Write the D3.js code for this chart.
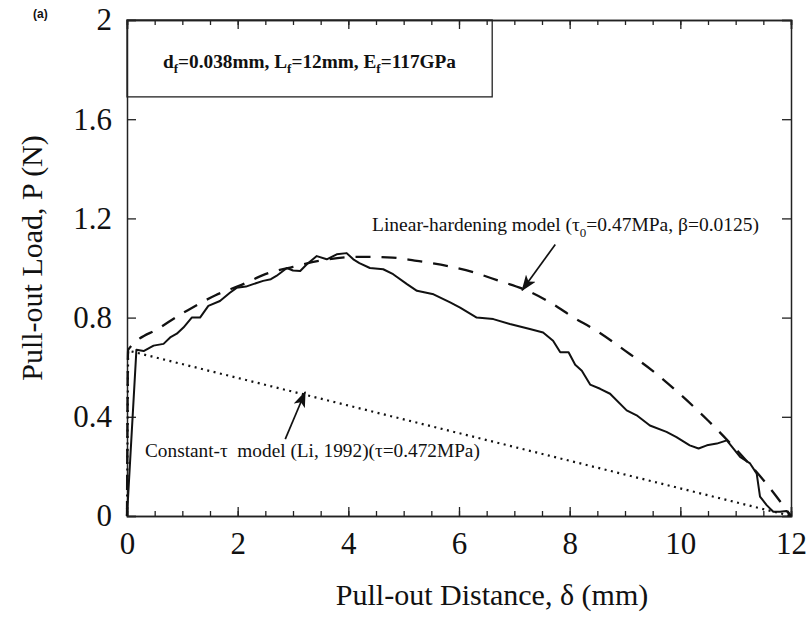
<!DOCTYPE html>
<html>
<head>
<meta charset="utf-8">
<script src="https://cdn.jsdelivr.net/npm/d3@7"></script>
<style>
  body { margin: 0; background: #fff; }
  text { font-family: "Liberation Serif", "Times New Roman", serif; fill: #111; }
</style>
</head>
<body>
<div id="root"></div>
<script>
// experimental pull-out curve (solid)
const expDelta = [0, 0.17, 0.3, 0.48, 0.66, 0.78, 0.9, 1.02, 1.17, 1.32, 1.47, 1.68, 1.86, 1.98, 2.15, 2.28, 2.46, 2.6, 2.7, 2.89, 3.0, 3.13, 3.25, 3.43, 3.61, 3.79, 3.97, 4.09, 4.2, 4.39, 4.63, 4.81, 5.06, 5.24, 5.54, 5.84, 6.02, 6.32, 6.62, 6.92, 7.28, 7.52, 7.7, 7.83, 7.98, 8.1, 8.22, 8.37, 8.55, 8.73, 9.03, 9.21, 9.45, 9.75, 9.93, 10.17, 10.33, 10.48, 10.66, 10.84, 10.96, 11.08, 11.26, 11.38, 11.44, 11.56, 11.68, 11.8, 11.92, 12];
const expLoad = [0, 0.67, 0.665, 0.687, 0.694, 0.72, 0.735, 0.76, 0.80, 0.80, 0.847, 0.867, 0.90, 0.92, 0.925, 0.935, 0.948, 0.955, 0.968, 1.0, 0.99, 0.988, 1.015, 1.048, 1.035, 1.055, 1.06, 1.035, 1.02, 1.0, 0.995, 0.975, 0.935, 0.908, 0.894, 0.861, 0.84, 0.80, 0.794, 0.774, 0.754, 0.74, 0.707, 0.66, 0.66, 0.61, 0.586, 0.53, 0.513, 0.493, 0.426, 0.406, 0.365, 0.339, 0.318, 0.285, 0.272, 0.285, 0.292, 0.305, 0.272, 0.238, 0.212, 0.171, 0.078, 0.044, 0.017, 0.017, 0.02, 0];

// linear-hardening model (dashed)
const linDelta = [0, 0.02, 0.6, 1.1, 1.6, 2.1, 2.5, 3.0, 3.5, 4.2, 4.8, 5.2, 5.8, 6.3, 6.7, 7.2, 7.8, 8.0, 8.5, 9.0, 9.5, 10.0, 10.5, 11.0, 11.5, 12];
const linLoad = [0, 0.67, 0.76, 0.83, 0.89, 0.935, 0.975, 1.005, 1.03, 1.045, 1.042, 1.03, 1.008, 0.98, 0.95, 0.912, 0.84, 0.81, 0.745, 0.667, 0.585, 0.49, 0.385, 0.27, 0.145, 0];

// constant-tau model (dotted)
const ctDelta = [0, 0.02, 12];
const ctLoad = [0, 0.667, 0];

const xMajor = [0, 2, 4, 6, 8, 10, 12];
const xMinor = d3.range(0, 12.01, 0.5);
const yMajor = [0, 0.4, 0.8, 1.2, 1.6, 2];
const yLabels = ["0", "0.4", "0.8", "1.2", "1.6", "2"];

const W = 811, H = 617;
const margin = { top: 20, right: 20, bottom: 101, left: 127 };

const svg = d3.select("#root").append("svg")
  .attr("width", W).attr("height", H);

const x = d3.scaleLinear().domain([0, 12]).range([margin.left, W - margin.right]);
const y = d3.scaleLinear().domain([0, 2]).range([H - margin.bottom, margin.top]);

const styleAxis = (g) => {
  g.select(".domain").attr("stroke", "#222").attr("stroke-width", 1.5);
  g.selectAll(".tick line").attr("stroke", "#222").attr("stroke-width", 1.3);
  g.selectAll(".tick text")
    .style("font-family", "'Liberation Serif', serif")
    .style("font-size", "31px")
    .attr("fill", "#111");
};

// bottom axis
svg.append("g")
  .attr("transform", "translate(0," + y(0) + ")")
  .call(d3.axisBottom(x).tickValues(xMinor).tickSize(-5).tickFormat(""))
  .call(styleAxis);
svg.append("g")
  .attr("transform", "translate(0," + y(0) + ")")
  .call(d3.axisBottom(x).tickValues(xMajor).tickSize(-9).tickPadding(16).tickFormat(d3.format("d")))
  .call(styleAxis);

// top axis
svg.append("g")
  .attr("transform", "translate(0," + y(2) + ")")
  .call(d3.axisTop(x).tickValues(xMinor).tickSize(-5).tickFormat(""))
  .call(styleAxis);
svg.append("g")
  .attr("transform", "translate(0," + y(2) + ")")
  .call(d3.axisTop(x).tickValues(xMajor).tickSize(-9).tickFormat(""))
  .call(styleAxis);

// left axis
svg.append("g")
  .attr("transform", "translate(" + x(0) + ",0)")
  .call(d3.axisLeft(y).tickValues(yMajor).tickSize(-9).tickPadding(15)
    .tickFormat((d, i) => yLabels[i]))
  .call(styleAxis);

// right axis
svg.append("g")
  .attr("transform", "translate(" + x(12) + ",0)")
  .call(d3.axisRight(y).tickValues(yMajor).tickSize(-9).tickFormat(""))
  .call(styleAxis);

// curves
const line = d3.line().x(d => x(d[0])).y(d => y(d[1]));

svg.append("path")
  .datum(ctDelta.map((d, i) => [d, ctLoad[i]]))
  .attr("d", line)
  .attr("fill", "none").attr("stroke", "#111")
  .attr("stroke-width", 2.2).attr("stroke-dasharray", "2,4.5");

svg.append("path")
  .datum(linDelta.map((d, i) => [d, linLoad[i]]))
  .attr("d", d3.line().x(d => x(d[0])).y(d => y(d[1])).curve(d3.curveMonotoneX))
  .attr("fill", "none").attr("stroke", "#111")
  .attr("stroke-width", 2.3).attr("stroke-dasharray", "15,11");

svg.append("path")
  .datum(expDelta.map((d, i) => [d, expLoad[i]]))
  .attr("d", line)
  .attr("fill", "none").attr("stroke", "#111")
  .attr("stroke-width", 2).attr("stroke-linejoin", "round");

// info box
svg.append("rect")
  .attr("x", x(0)).attr("y", y(2))
  .attr("width", x(6.6) - x(0)).attr("height", y(1.69) - y(2))
  .attr("fill", "none").attr("stroke", "#222").attr("stroke-width", 1.3);

const info = svg.append("text")
  .attr("x", 163).attr("y", 68)
  .style("font-size", "19.3px").style("font-weight", "bold");
info.append("tspan").text("d");
info.append("tspan").attr("dy", 5).style("font-size", "13px").text("f");
info.append("tspan").attr("dy", -5).text("=0.038mm, L");
info.append("tspan").attr("dy", 5).style("font-size", "13px").text("f");
info.append("tspan").attr("dy", -5).text("=12mm, E");
info.append("tspan").attr("dy", 5).style("font-size", "13px").text("f");
info.append("tspan").attr("dy", -5).text("=117GPa");

svg.append("text")
  .attr("x", 33).attr("y", 18)
  .style("font-family", "'Liberation Sans', Arial, sans-serif")
  .style("font-size", "12px").style("font-weight", "bold")
  .text("(a)");

// axis titles
svg.append("text")
  .attr("x", 492).attr("y", 605)
  .attr("text-anchor", "middle")
  .style("font-size", "30px")
  .text("Pull-out Distance, δ (mm)");

svg.append("text")
  .attr("transform", "translate(42,258) rotate(-90)")
  .attr("text-anchor", "middle")
  .style("font-size", "30px")
  .text("Pull-out Load, P (N)");

// annotations
const defs = svg.append("defs");
defs.append("marker")
  .attr("id", "arr").attr("viewBox", "0 0 16 12")
  .attr("refX", 15).attr("refY", 6)
  .attr("markerWidth", 16).attr("markerHeight", 12)
  .attr("markerUnits", "userSpaceOnUse")
  .attr("orient", "auto")
  .append("path").attr("d", "M0,0 L16,6 L0,12 L4,6 Z").attr("fill", "#111");

const lt = svg.append("text")
  .attr("x", 372).attr("y", 231)
  .style("font-size", "19.5px");
lt.append("tspan").text("Linear-hardening model (τ");
lt.append("tspan").attr("dy", 6).style("font-size", "13px").text("0");
lt.append("tspan").attr("dy", -6).text("=0.47MPa, β=0.0125)");

svg.append("line")
  .attr("x1", x(7.74)).attr("y1", y(1.095))
  .attr("x2", x(7.14)).attr("y2", y(0.91))
  .attr("stroke", "#111").attr("stroke-width", 1.7)
  .attr("marker-end", "url(#arr)");

svg.append("text")
  .attr("x", 145).attr("y", 457)
  .style("font-size", "19.3px")
  .attr("xml:space", "preserve")
  .text("Constant-τ  model (Li, 1992)(τ=0.472MPa)");

svg.append("line")
  .attr("x1", x(2.86)).attr("y1", y(0.31))
  .attr("x2", x(3.22)).attr("y2", y(0.5))
  .attr("stroke", "#111").attr("stroke-width", 1.7)
  .attr("marker-end", "url(#arr)");
</script>
</body>
</html>
